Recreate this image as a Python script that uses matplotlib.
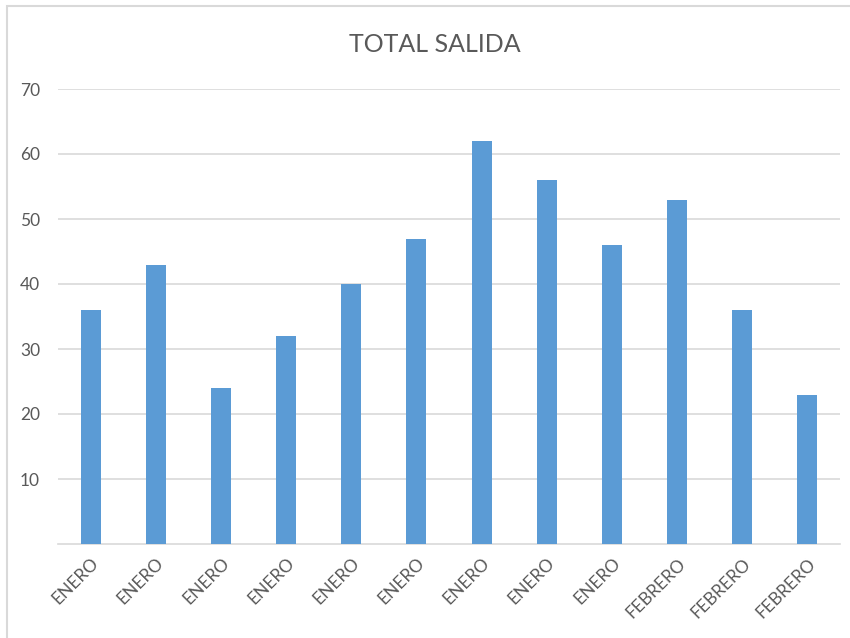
import matplotlib.pyplot as plt
import matplotlib.patches as mpatches
import numpy as np

meses = ['ENERO'] * 9 + ['FEBRERO'] * 3
total_salida = [36, 43, 24, 32, 40, 47, 62, 56, 46, 53, 36, 23]
yticks = [10, 20, 30, 40, 50, 60, 70]

plt.rcParams['font.family'] = ['Lato', 'DejaVu Sans']
gray = '#595959'

fig = plt.figure(figsize=(8.5, 6.38), dpi=100)
ax = fig.add_axes([58 / 850, 1 - 544 / 638, 782 / 850, 455 / 638])

x = np.arange(len(total_salida))
ax.bar(x, total_salida, width=0.307, color='#5b9bd5', zorder=3)

ax.set_xlim(-0.5, len(total_salida) - 0.5)
ax.set_ylim(0, 70)
ax.set_yticks(yticks)
ax.set_yticklabels([str(v) for v in yticks], color=gray, fontsize=12.5)
ax.yaxis.grid(True, color='#d9d9d9', linewidth=1.2, zorder=0)
ax.tick_params(axis='y', length=0, pad=13)
ax.tick_params(axis='x', length=0, pad=8)

ax.set_xticks(x)
ax.set_xticklabels(meses, rotation=45, ha='right', va='top', rotation_mode='anchor',
                   color=gray, fontsize=12.5)

for s in ['top', 'right', 'left']:
    ax.spines[s].set_visible(False)
ax.spines['bottom'].set_color('#d9d9d9')
ax.spines['bottom'].set_linewidth(1.2)

fig.text(435 / 850, 1 - 45 / 638, 'TOTAL SALIDA', ha='center', va='center',
         fontsize=18, color=gray)

# borde del grafico
borde = mpatches.Rectangle((7 / 850, -0.1), 1.2, 1 - 6 / 638 + 0.1,
                           transform=fig.transFigure, fill=False,
                           edgecolor='#d9d9d9', linewidth=1.5)
fig.patches.append(borde)

fig.savefig('out.png', dpi=100)
